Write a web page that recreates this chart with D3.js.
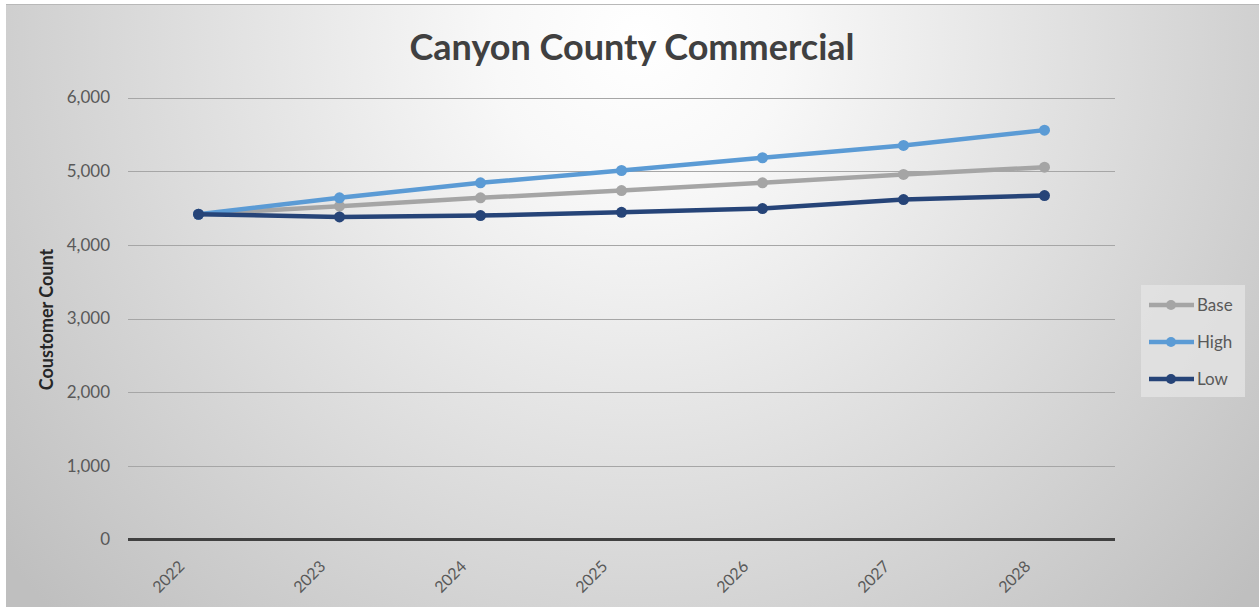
<!DOCTYPE html>
<html>
<head>
<meta charset="utf-8">
<script src="https://cdn.jsdelivr.net/npm/d3@7"></script>
<style>
  html, body { margin: 0; padding: 0; background: #ffffff; }
  svg { display: block; }
  text { font-family: Lato, "Open Sans", "Noto Sans", sans-serif; }
</style>
</head>
<body>
<svg id="chart" width="1259" height="610"></svg>
<script>
// Customer count forecast, Canyon County commercial class
const years = ["2022", "2023", "2024", "2025", "2026", "2027", "2028"];
const baseValues = [4415, 4525, 4638, 4737, 4842, 4955, 5054];
const highValues = [4415, 4638, 4842, 5009, 5182, 5349, 5557];
const lowValues  = [4415, 4379, 4397, 4442, 4492, 4615, 4669];
const yTicks = [0, 1000, 2000, 3000, 4000, 5000, 6000];
const seriesNames = ["Base", "High", "Low"];
const seriesColors = ["#a5a5a5", "#5b9bd5", "#264478"];

const series = [
  { name: seriesNames[0], color: seriesColors[0], values: baseValues },
  { name: seriesNames[1], color: seriesColors[1], values: highValues },
  { name: seriesNames[2], color: seriesColors[2], values: lowValues }
];

const W = 1259, H = 610;
const svg = d3.select("#chart");

// Background with soft radial shading
const defs = svg.append("defs");
const grad = defs.append("radialGradient")
  .attr("id", "bg")
  .attr("gradientUnits", "userSpaceOnUse")
  .attr("cx", 640).attr("cy", 40).attr("r", 820);
grad.append("stop").attr("offset", 0).attr("stop-color", "#ffffff");
grad.append("stop").attr("offset", 0.18).attr("stop-color", "#f8f8f8");
grad.append("stop").attr("offset", 1).attr("stop-color", "#bfbfbf");

svg.append("rect")
  .attr("x", 6).attr("y", 4).attr("width", W - 6).attr("height", H - 7)
  .attr("fill", "url(#bg)");
svg.append("line")
  .attr("x1", 6).attr("x2", W).attr("y1", 4.5).attr("y2", 4.5)
  .attr("stroke", "#b8b8b8").attr("stroke-width", 1);

const plot = { left: 128, right: 1115, top: 97.5, bottom: 539.5 };

const x = d3.scaleBand().domain(years).range([plot.left, plot.right]).padding(0);
const cx = d => x(d) + x.bandwidth() / 2;
const y = d3.scaleLinear().domain([0, 6000]).range([plot.bottom, plot.top]);

// Title
svg.append("text")
  .attr("x", 632).attr("y", 60)
  .attr("text-anchor", "middle")
  .attr("font-size", 36).attr("font-weight", 700)
  .attr("fill", "#404040")
  .text("Canyon County Commercial");

// Horizontal gridlines and y tick labels
const yAxis = d3.axisLeft(y).tickValues(yTicks).tickSize(0).tickPadding(18)
  .tickFormat(d3.format(","));
const gy = svg.append("g").attr("transform", `translate(${plot.left},0)`).call(yAxis);
gy.select(".domain").remove();
gy.selectAll("text")
  .attr("font-size", 17).attr("fill", "#595959")
  .style("font-family", "Lato, 'Open Sans', sans-serif");

svg.append("g").selectAll("line")
  .data(yTicks.filter(t => t > 0))
  .join("line")
  .attr("x1", plot.left).attr("x2", plot.right)
  .attr("y1", d => Math.round(y(d)) + 0.5).attr("y2", d => Math.round(y(d)) + 0.5)
  .attr("stroke", "#a6a6a6").attr("stroke-width", 1);

// Category axis at zero
svg.append("line")
  .attr("x1", plot.left).attr("x2", plot.right)
  .attr("y1", y(0)).attr("y2", y(0))
  .attr("stroke", "#404040").attr("stroke-width", 3);

const xAxis = d3.axisBottom(x).tickSize(0).tickPadding(0);
const gx = svg.append("g").attr("transform", `translate(0,${plot.bottom})`).call(xAxis);
gx.select(".domain").remove();
gx.selectAll("text")
  .attr("font-size", 16).attr("fill", "#595959")
  .style("font-family", "Lato, 'Open Sans', sans-serif")
  .attr("text-anchor", "end")
  .attr("dy", 0)
  .attr("transform", "translate(-13,28) rotate(-45)");

// Y axis title
svg.append("text")
  .attr("transform", `translate(53,${(plot.top + plot.bottom) / 2 + 1}) rotate(-90)`)
  .attr("text-anchor", "middle")
  .attr("font-size", 18).attr("font-weight", 700)
  .attr("fill", "#262626")
  .text("Coustomer Count");

// Series lines and markers
const line = d3.line().x((d, i) => cx(years[i])).y(d => y(d));
const gs = svg.append("g");
series.forEach(s => {
  gs.append("path")
    .datum(s.values)
    .attr("d", line)
    .attr("fill", "none")
    .attr("stroke", s.color)
    .attr("stroke-width", 4.5)
    .attr("stroke-linejoin", "round")
    .attr("stroke-linecap", "round");
  gs.append("g").selectAll("circle")
    .data(s.values)
    .join("circle")
    .attr("cx", (d, i) => cx(years[i]))
    .attr("cy", d => y(d))
    .attr("r", 5.5)
    .attr("fill", s.color);
});

// Legend
const legend = svg.append("g");
legend.append("rect")
  .attr("x", 1141).attr("y", 285).attr("width", 104).attr("height", 112)
  .attr("fill", "#e4e4e4").attr("opacity", 0.8);
const legendY = d3.scalePoint().domain(seriesNames).range([305, 379]);
series.forEach(s => {
  const ly = legendY(s.name);
  legend.append("line")
    .attr("x1", 1149).attr("x2", 1194).attr("y1", ly).attr("y2", ly)
    .attr("stroke", s.color).attr("stroke-width", 4.5);
  legend.append("circle")
    .attr("cx", 1171).attr("cy", ly).attr("r", 5)
    .attr("fill", s.color);
  legend.append("text")
    .attr("x", 1197).attr("y", ly).attr("dy", "0.35em")
    .attr("font-size", 17).attr("fill", "#595959")
    .text(s.name);
});
</script>
</body>
</html>
